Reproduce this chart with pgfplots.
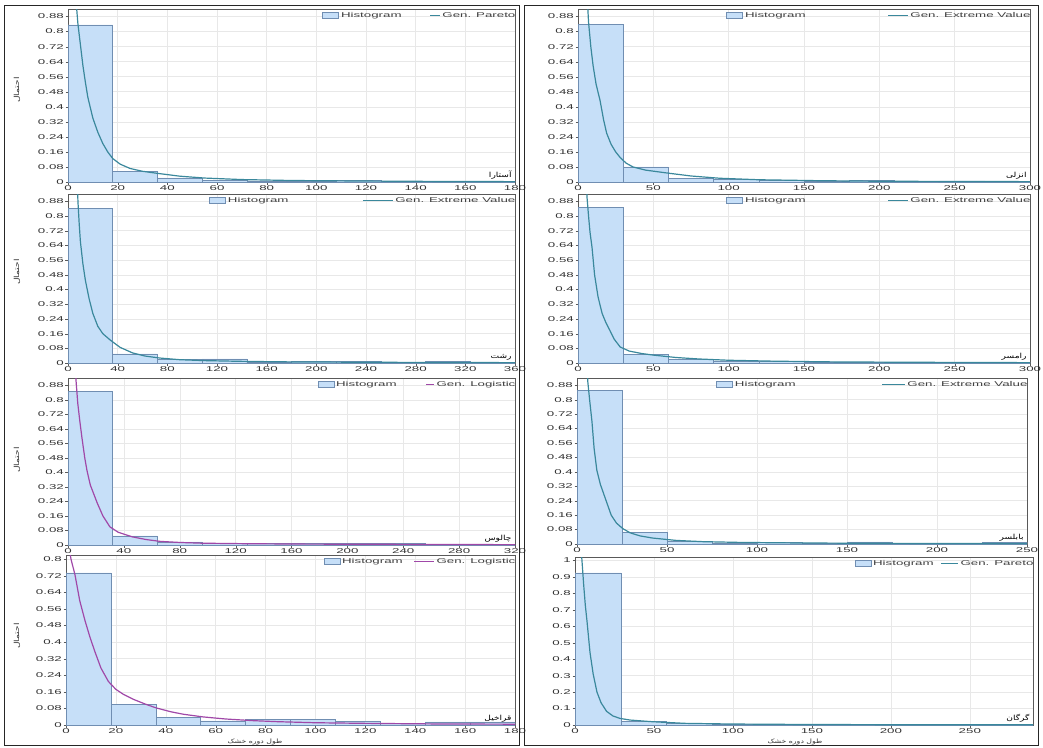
\documentclass[border=0pt]{standalone}
\usepackage{fontspec}
\setmainfont{Liberation Sans}[FakeStretch=1.9]
\newfontfamily\fa[Script=Arabic,FakeStretch=1.3]{DejaVu Sans}
\usepackage{pgfplots}
\pgfplotsset{compat=1.18}
\TeXXeTstate=1

\definecolor{barfill}{RGB}{198,223,248}
\definecolor{barline}{RGB}{112,142,178}
\definecolor{fitteal}{RGB}{58,136,156}
\definecolor{fitpurple}{RGB}{160,72,168}
\definecolor{gridc}{RGB}{232,232,232}

\tikzset{station/.style={anchor=south east, inner sep=1pt,
    font=\fa\fontsize{7}{8}\selectfont}}
\pgfplotsset{
  panel/.style={
    scale only axis, anchor=south west,
    xmin=0, ymin=0, ymax=0.92,
    axis line style={black!65},
    tick align=outside, tick pos=left,
    major tick length=2.5pt,
    tick style={black!65},
    grid=major, grid style={gridc, line width=0.5pt},
    ytick={0,0.08,0.16,0.24,0.32,0.4,0.48,0.56,0.64,0.72,0.8,0.88},
    /pgf/number format/assume math mode=true,
    /pgf/number format/fixed,
    /pgf/number format/precision=2,
    tick label style={font=\fontsize{7}{8}\selectfont, text=black!80},
    xticklabel style={inner sep=1pt},
    yticklabel style={inner sep=1.5pt},
    legend style={at={(1.008,1)}, anchor=north east, draw=none, fill=none,
      font=\fontsize{7}{8}\selectfont, legend columns=2, inner sep=1pt,
      text=black!75},
  },
  hist/.style={ybar interval, fill=barfill, draw=barline, line width=0.6pt,
    legend image code/.code={\draw[##1] (0pt,-3.2pt) rectangle (16pt,3.2pt);}},
  fit/.style={line width=1.2pt,
    legend image code/.code={\draw[##1, line width=0.8pt] (0pt,0pt) -- (#1,0pt);}},
}

\begin{document}
\begin{tikzpicture}
\path[use as bounding box] (0,0) rectangle (1043pt,-747pt);

% row 1 left
\begin{axis}[panel, at={(68pt,-182pt)}, width=447pt, height=173pt,
  xmax=180, xtick={0,20,...,180},
  legend style={/tikz/every even column/.append style={column sep=26pt}}]
\addplot[hist] coordinates {(0,0.835) (18,0.058) (36,0.022) (54,0.009) (72,0.006)
  (90,0.005) (108,0.007) (126,0.005) (144,0.002) (162,0.002) (180,0)};
\addplot[fitteal, fit=10pt] coordinates {
  (3,1.0) (4,0.84) (5,0.73) (6,0.62) (7,0.53) (8,0.45) (10,0.34) (12,0.265)
  (14,0.205) (16,0.16) (18,0.125) (21,0.095) (25,0.072) (30,0.057) (36,0.046)
  (45,0.031) (55,0.021) (70,0.013) (90,0.008) (120,0.005) (150,0.003) (180,0.002)};
\legend{Histogram, Gen. Pareto}
\node[station] at (rel axis cs:0.995,0.01) {\beginR آستارا\endR};
\end{axis}

% row 1 right
\begin{axis}[panel, at={(578pt,-182pt)}, width=452pt, height=173pt,
  xmax=300, xtick={0,50,...,300},
  legend style={/tikz/every even column/.append style={column sep=80pt}}]
\addplot[hist] coordinates {(0,0.84) (30,0.08) (60,0.02) (90,0.015) (120,0.01)
  (150,0.004) (180,0.01) (210,0.004) (240,0.006) (270,0.003) (300,0)};
\addplot[fitteal, fit=20pt] coordinates {
  (6,1.0) (7,0.85) (8.5,0.72) (10,0.62) (12,0.52) (14.6,0.435) (17,0.33) (19,0.26)
  (22,0.2) (25,0.16) (28,0.13) (32,0.1) (36.5,0.08) (45,0.063) (59,0.048)
  (75,0.032) (94,0.02) (120,0.012) (160,0.007) (200,0.004) (250,0.003) (300,0.002)};
\legend{Histogram, Gen. Extreme Value}
\node[station] at (rel axis cs:0.995,0.01) {\beginR انزلی\endR};
\end{axis}

% row 2 left
\begin{axis}[panel, at={(68pt,-363pt)}, width=447pt, height=169pt,
  xmax=360, xtick={0,40,...,360},
  legend style={/tikz/every even column/.append style={column sep=72pt}}]
\addplot[hist] coordinates {(0,0.842) (36,0.05) (72,0.018) (108,0.022) (144,0.006)
  (180,0.01) (216,0.008) (252,0.004) (288,0.007) (324,0.003) (360,0)};
\addplot[fitteal, fit=30pt] coordinates {
  (7.5,1.0) (8,0.88) (9,0.76) (10,0.66) (12,0.54) (14,0.45) (17,0.35) (20,0.27)
  (24,0.2) (28,0.16) (34,0.125) (42,0.085) (52,0.055) (62,0.038) (74,0.027)
  (90,0.018) (110,0.013) (140,0.009) (180,0.006) (240,0.004) (300,0.003) (360,0.002)};
\legend{Histogram, Gen. Extreme Value}
\node[station] at (rel axis cs:0.995,0.01) {\beginR رشت\endR};
\end{axis}

% row 2 right
\begin{axis}[panel, at={(578pt,-363pt)}, width=452pt, height=169pt,
  xmax=300, xtick={0,50,...,300},
  legend style={/tikz/every even column/.append style={column sep=80pt}}]
\addplot[hist] coordinates {(0,0.848) (30,0.045) (60,0.02) (90,0.012) (120,0.008)
  (150,0.006) (180,0.005) (210,0.004) (240,0.003) (270,0.004) (300,0)};
\addplot[fitteal, fit=20pt] coordinates {
  (5.5,1.0) (6,0.9) (7,0.8) (8,0.71) (9.3,0.63) (11,0.48) (13.3,0.36) (16,0.27)
  (18.5,0.22) (21,0.18) (24,0.13) (28,0.087) (34,0.065) (42,0.052) (50,0.043)
  (65,0.03) (80,0.022) (100,0.015) (130,0.01) (170,0.006) (220,0.004) (300,0.002)};
\legend{Histogram, Gen. Extreme Value}
\node[station] at (rel axis cs:0.995,0.01) {\beginR رامسر\endR};
\end{axis}

% row 3 left
\begin{axis}[panel, at={(68pt,-545pt)}, width=447pt, height=167pt,
  xmax=320, xtick={0,40,...,320},
  legend style={/tikz/every even column/.append style={column sep=27pt}}]
\addplot[hist] coordinates {(0,0.847) (32,0.05) (64,0.017) (96,0.01) (128,0.008)
  (160,0.008) (192,0.007) (224,0.008) (256,0.002) (288,0.001) (320,0)};
\addplot[fitpurple, fit=8pt] coordinates {
  (5.3,1.0) (5.7,0.91) (7,0.78) (8.5,0.68) (10,0.59) (12,0.48) (13.6,0.41)
  (16,0.33) (18.5,0.28) (21,0.23) (25,0.16) (30,0.1) (36,0.07) (46,0.045)
  (56,0.03) (66,0.02) (80,0.014) (96,0.01) (130,0.007) (170,0.005) (220,0.004)
  (260,0.003) (320,0.002)};
\legend{Histogram, Gen. Logistic}
\node[station] at (rel axis cs:0.995,0.01) {\beginR چالوس\endR};
\end{axis}

% row 3 right
\begin{axis}[panel, at={(577pt,-544pt)}, width=450pt, height=166pt,
  xmax=250, xtick={0,50,...,250},
  legend style={/tikz/every even column/.append style={column sep=84pt}}]
\addplot[hist] coordinates {(0,0.853) (25,0.065) (50,0.013) (75,0.005) (100,0.011)
  (125,0.006) (150,0.012) (175,0.003) (200,0.002) (225,0.01) (250,0)};
\addplot[fitteal, fit=23pt] coordinates {
  (5.5,1.0) (6,0.9) (7,0.8) (8.3,0.68) (9.5,0.53) (11,0.41) (13,0.33) (16.7,0.225)
  (19,0.16) (22,0.115) (25.5,0.085) (29.5,0.062) (35,0.045) (42,0.033) (55,0.02)
  (70,0.013) (90,0.009) (120,0.006) (160,0.004) (200,0.003) (250,0.002)};
\legend{Histogram, Gen. Extreme Value}
\node[station] at (rel axis cs:0.995,0.01) {\beginR بابلسر\endR};
\end{axis}

% row 4 left
\begin{axis}[panel, at={(66pt,-725pt)}, width=449pt, height=170pt,
  xmax=180, ymax=0.82, xtick={0,20,...,180},
  ytick={0,0.08,0.16,0.24,0.32,0.4,0.48,0.56,0.64,0.72,0.8},
  legend style={/tikz/every even column/.append style={column sep=9pt}}]
\addplot[hist] coordinates {(0,0.734) (18,0.099) (36,0.038) (54,0.02) (72,0.028)
  (90,0.028) (108,0.017) (126,0.006) (144,0.015) (162,0.015) (180,0)};
\addplot[fitpurple, fit=20pt] coordinates {
  (1.3,0.85) (2,0.8) (3.6,0.725) (5.5,0.6) (7.7,0.5) (9.7,0.42) (11.7,0.35)
  (14,0.275) (17,0.21) (20,0.172) (23,0.148) (27,0.124) (32,0.1) (36,0.083)
  (42,0.064) (47,0.052) (55,0.039) (64,0.029) (75,0.021) (85,0.016) (100,0.011)
  (120,0.008) (150,0.005) (180,0.004)};
\legend{Histogram, Gen. Logistic}
\node[station] at (rel axis cs:0.995,0.01) {\beginR قراخیل\endR};
\end{axis}

% row 4 right
\begin{axis}[panel, at={(575pt,-725pt)}, width=458pt, height=168pt,
  xmax=290, ymax=1.02, xtick={0,50,...,250},
  ytick={0,0.1,0.2,0.3,0.4,0.5,0.6,0.7,0.8,0.9,1},
  legend style={/tikz/every even column/.append style={column sep=5pt}}]
\addplot[hist] coordinates {(0,0.923) (29,0.024) (58,0.01) (87,0.004) (116,0.003)
  (145,0.003) (174,0.003) (203,0.002) (232,0.002) (261,0.002) (290,0)};
\addplot[fitteal, fit=17pt] coordinates {
  (4,1.05) (4.4,1.0) (5.5,0.85) (6.5,0.73) (7.6,0.63) (9.5,0.44) (11.5,0.31)
  (13.9,0.2) (16.5,0.135) (20,0.083) (24,0.055) (28.5,0.04) (35,0.03) (49,0.02)
  (70,0.01) (100,0.006) (150,0.003) (200,0.002) (290,0.001)};
\legend{Histogram, Gen. Pareto}
\node[station] at (rel axis cs:0.995,0.01) {\beginR گرگان\endR};
\end{axis}

% frames and shared labels
\draw[black!85, line width=0.8pt] (4pt,-5pt) rectangle (519pt,-745pt);
\draw[black!85, line width=0.8pt] (524pt,-5pt) rectangle (1038pt,-745pt);
\foreach \yy in {90,272,460,636}
  \node[rotate=90, font=\fa\fontsize{7}{8}\selectfont, text=black!80]
    at (17pt,-\yy pt) {\beginR احتمال\endR};
\node[font=\fa\fontsize{6}{7}\selectfont, text=black!80, inner sep=0.5pt]
  at (255pt,-741.5pt) {\beginR طول دوره خشک\endR};
\node[font=\fa\fontsize{6}{7}\selectfont, text=black!80, inner sep=0.5pt]
  at (795pt,-741.5pt) {\beginR طول دوره خشک\endR};
\end{tikzpicture}
\end{document}
